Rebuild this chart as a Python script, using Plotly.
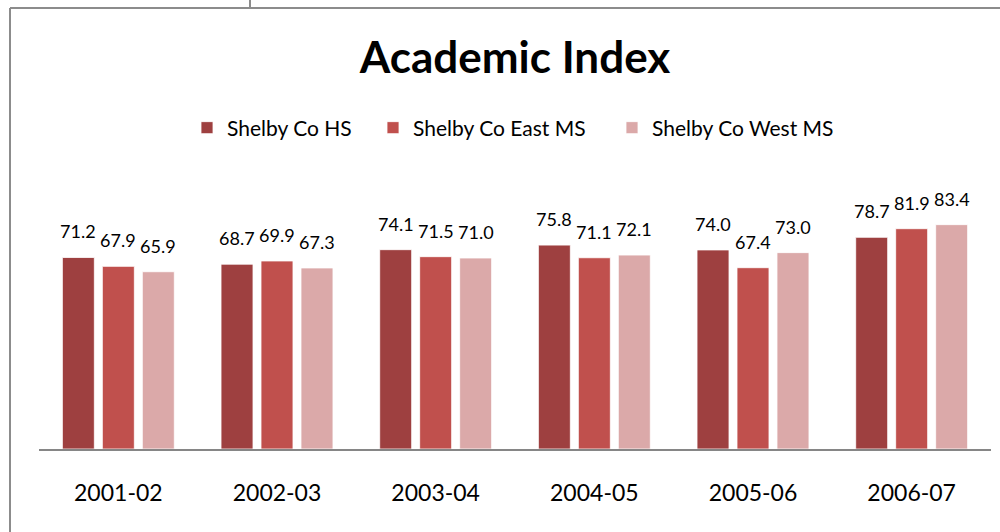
import plotly.graph_objects as go

categories = ["2001-02", "2002-03", "2003-04", "2004-05", "2005-06", "2006-07"]
series_names = ["Shelby Co HS", "Shelby Co East MS", "Shelby Co West MS"]
hs_values = [71.2, 68.7, 74.1, 75.8, 74.0, 78.7]
east_values = [67.9, 69.9, 71.5, 71.1, 67.4, 81.9]
west_values = [65.9, 67.3, 71.0, 72.1, 73.0, 83.4]
colors = ["#9E4040", "#C0504D", "#DBA9A9"]

W, H = 1000, 532
ML, MR, MT, MB = 39, 9, 180, 83
PW = W - ML - MR
PH = H - MT - MB

def px_x(p):
    return (p - ML) / PW

def px_y(p):
    return (H - MB - p) / PH

FONT = "Lato"
fig = go.Figure()
all_vals = [hs_values, east_values, west_values]
legend_ids = ["legend", "legend2", "legend3"]
legend_left_px = [187, 373, 612]
for name, vals, col, lid in zip(series_names, all_vals, colors, legend_ids):
    fig.add_trace(go.Bar(
        x=categories, y=vals, name=name, legend=lid,
        marker=dict(color=col, line=dict(color="white", width=0.8)),
    ))

# data labels
offsets = [-40, 0, 40]
for vals, off in zip(all_vals, offsets):
    for c, v in zip(categories, vals):
        fig.add_annotation(
            x=c, y=v, xref="x", yref="y", text=f"{v:.1f}",
            showarrow=False, xshift=off, yshift=13, yanchor="bottom",
            font=dict(family=FONT, size=18, color="#000000"),
        )

line_style = dict(color="#8C8C8C", width=2)
fig.add_shape(type="line", xref="paper", yref="paper",
              x0=px_x(10), x1=px_x(1001), y0=px_y(8), y1=px_y(8), line=line_style)
fig.add_shape(type="line", xref="paper", yref="paper",
              x0=px_x(10), x1=px_x(10), y0=px_y(8), y1=px_y(533), line=line_style)
fig.add_shape(type="line", xref="paper", yref="paper",
              x0=px_x(250), x1=px_x(250), y0=px_y(-1), y1=px_y(8), line=line_style)

legend_common = dict(orientation="h", xanchor="left", yanchor="middle",
                     y=px_y(128), bgcolor="rgba(0,0,0,0)",
                     font=dict(family=FONT, size=21, color="#000000"))

fig.update_layout(
    width=W, height=H,
    margin=dict(l=ML, r=MR, t=MT, b=MB, autoexpand=False),
    paper_bgcolor="white", plot_bgcolor="white",
    barmode="group", bargap=0.244, bargroupgap=0.2,
    title=dict(text="<b>Academic Index</b>", x=515 / W, xanchor="center",
               y=1 - 58 / H, yanchor="middle",
               font=dict(family=FONT, size=44, color="#000000")),
    legend=dict(x=px_x(legend_left_px[0]), **legend_common),
    legend2=dict(x=px_x(legend_left_px[1]), **legend_common),
    legend3=dict(x=px_x(legend_left_px[2]), **legend_common),
    showlegend=True,
    font=dict(family=FONT),
)
fig.update_xaxes(type="category", showline=True, linecolor="#868686", linewidth=1.5,
                 ticks="", ticklabelstandoff=23, automargin=False,
                 tickfont=dict(family=FONT, size=23, color="#000000"),
                 showgrid=False, zeroline=False)
fig.update_yaxes(range=[0, 100], visible=False, showgrid=False, zeroline=False,
                 automargin=False)

fig.write_html("out.html", config={"displayModeBar": False},
               post_script="document.body.style.margin='0px';")
